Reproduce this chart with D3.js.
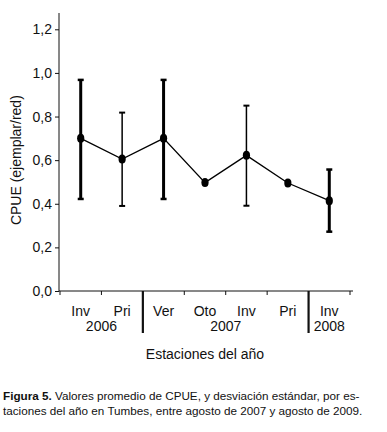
<!DOCTYPE html>
<html>
<head>
<meta charset="utf-8">
<script src="https://cdn.jsdelivr.net/npm/d3@7"></script>
<style>
  body { margin: 0; background: #fff; }
  text { font-family: "Liberation Sans", Arial, sans-serif; fill: #111; }
</style>
</head>
<body>
<div id="chart"></div>
<script>
// Data
const seasons = ["Inv", "Pri", "Ver", "Oto", "Inv", "Pri", "Inv"];
const means = [0.70, 0.605, 0.70, 0.497, 0.622, 0.495, 0.414];
const upper = [0.968, 0.818, 0.968, null, 0.85, null, 0.557];
const lower = [0.422, 0.39, 0.422, null, 0.391, null, 0.272];
const heavy = [true, false, true, false, false, false, true];
const years = [
  { label: "2006", from: 0, to: 2 },
  { label: "2007", from: 2, to: 6 },
  { label: "2008", from: 6, to: 7 }
];
const yTicks = [0, 0.2, 0.4, 0.6, 0.8, 1.0, 1.2];

const W = 387, H = 432;
const svg = d3.select("#chart").append("svg")
  .attr("width", W).attr("height", H);

const x = d3.scaleBand()
  .domain(d3.range(seasons.length))
  .range([60, 350])
  .paddingInner(0).paddingOuter(0);

const y = d3.scaleLinear()
  .domain([0, 1.2])
  .range([291, 29.3]);

// Y axis
const yAxis = svg.append("g")
  .attr("transform", "translate(59,0)")
  .call(d3.axisLeft(y).tickValues(yTicks).tickSize(4)
    .tickFormat(d => d3.format(".1f")(d).replace(".", ",")));
yAxis.select(".domain").attr("d", `M0,13V${y(0)}`).attr("stroke", "#111");
yAxis.selectAll(".tick line").attr("stroke", "#111");
yAxis.selectAll(".tick text")
  .attr("x", -7).attr("font-size", 14).attr("fill", "#111")
  .style("font-family", "Liberation Sans, Arial, sans-serif");

// X axis
const xAxis = svg.append("g")
  .attr("transform", `translate(0,${y(0)})`);
xAxis.append("line")
  .attr("x1", 59).attr("x2", 353)
  .attr("stroke", "#111");
const bounds = d3.range(seasons.length + 1).map(i => i < seasons.length ? x(i) : x(i - 1) + x.bandwidth());
xAxis.selectAll(".xt")
  .data(bounds)
  .enter().append("line")
  .attr("x1", d => d).attr("x2", d => d)
  .attr("y1", 0).attr("y2", 4)
  .attr("stroke", "#111");

// year separators
years.slice(1).forEach(yr => {
  xAxis.append("line")
    .attr("x1", x(yr.from)).attr("x2", x(yr.from))
    .attr("y1", 0).attr("y2", 42)
    .attr("stroke", "#111").attr("stroke-width", 2.2);
});

xAxis.selectAll(".season")
  .data(seasons)
  .enter().append("text")
  .attr("x", (d, i) => x(i) + x.bandwidth() / 2)
  .attr("y", 25)
  .attr("text-anchor", "middle")
  .attr("font-size", 14)
  .text(d => d);

xAxis.selectAll(".year")
  .data(years)
  .enter().append("text")
  .attr("x", d => (x(d.from) + bounds[d.to]) / 2)
  .attr("y", 40)
  .attr("text-anchor", "middle")
  .attr("font-size", 14)
  .text(d => d.label);

// axis titles
svg.append("text")
  .attr("x", 205).attr("y", 359)
  .attr("text-anchor", "middle")
  .attr("font-size", 14)
  .text("Estaciones del año");

svg.append("text")
  .attr("transform", `translate(21,${(y(0) + y(1.2)) / 2}) rotate(-90)`)
  .attr("text-anchor", "middle")
  .attr("font-size", 14)
  .text("CPUE (ejemplar/red)");

// error bars
const cx = i => x(i) + x.bandwidth() / 2;
const eb = svg.append("g");
means.forEach((m, i) => {
  if (upper[i] == null) return;
  const sw = heavy[i] ? 3 : 1.5;
  eb.append("line")
    .attr("x1", cx(i)).attr("x2", cx(i))
    .attr("y1", y(upper[i])).attr("y2", y(lower[i]))
    .attr("stroke", "#000").attr("stroke-width", sw);
  [upper[i], lower[i]].forEach(v => {
    eb.append("line")
      .attr("x1", cx(i) - 3).attr("x2", cx(i) + 3)
      .attr("y1", y(v)).attr("y2", y(v))
      .attr("stroke", "#000").attr("stroke-width", heavy[i] ? 2.5 : 2);
  });
});

// mean line
const line = d3.line()
  .x((d, i) => cx(i))
  .y(d => y(d));
svg.append("path")
  .datum(means)
  .attr("d", line)
  .attr("fill", "none")
  .attr("stroke", "#000")
  .attr("stroke-width", 1.3);

svg.selectAll(".pt")
  .data(means)
  .enter().append("ellipse")
  .attr("cx", (d, i) => cx(i))
  .attr("cy", d => y(d))
  .attr("rx", 3.6).attr("ry", 4.5)
  .attr("fill", "#000");

// caption
const cap = svg.append("g").attr("font-size", 11.7);
const t1 = cap.append("text").attr("x", 3).attr("y", 400);
t1.append("tspan").attr("font-weight", "bold").text("Figura 5.");
t1.append("tspan").text(" Valores promedio de CPUE, y desviación estándar, por es-");
cap.append("text").attr("x", 3).attr("y", 415)
  .text("taciones del año en Tumbes, entre agosto de 2007 y agosto de 2009.");
</script>
</body>
</html>
